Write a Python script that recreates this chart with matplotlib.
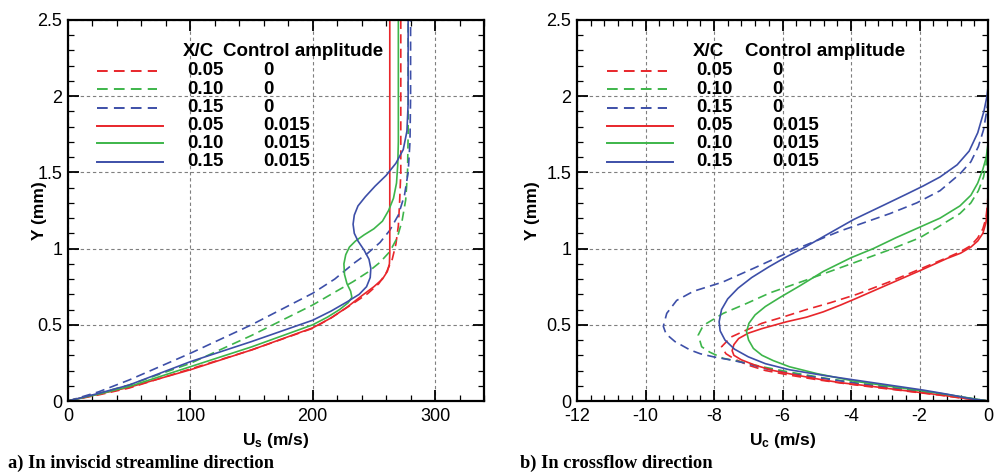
import matplotlib
matplotlib.use("Agg")
import matplotlib.pyplot as plt
from matplotlib.ticker import MultipleLocator, FixedLocator, FixedFormatter

plt.rcParams['axes.unicode_minus'] = False
plt.rcParams['mathtext.fontset'] = 'custom'
plt.rcParams['mathtext.rm'] = 'Liberation Sans'
plt.rcParams['mathtext.bf'] = 'Liberation Sans:bold'

NARROW = ['Liberation Sans Narrow', 'Liberation Sans', 'DejaVu Sans']
SANS = ['Liberation Sans', 'DejaVu Sans']
SERIF = ['Liberation Serif', 'DejaVu Serif']

# ---------------- data ----------------
xc_values = ['0.05', '0.10', '0.15', '0.05', '0.10', '0.15']
amp_values = ['0', '0', '0', '0.015', '0.015', '0.015']

# (a) streamwise velocity Us (m/s) vs Y (mm)
us_005_0 = [0, 25, 50, 100, 150, 200, 215, 233, 245, 254, 260, 265, 268, 270, 271, 272, 272]
y_us_005_0 = [0, 0.04, 0.085, 0.21, 0.335, 0.477, 0.545, 0.64, 0.705, 0.77, 0.84, 0.93, 1.03, 1.15, 1.3, 1.5, 2.5]
us_010_0 = [0, 25, 50, 100, 150, 200, 215, 233, 245, 255, 263, 269, 273, 276, 277.5, 278, 278]
y_us_010_0 = [0, 0.05, 0.105, 0.247, 0.43, 0.63, 0.7, 0.783, 0.845, 0.91, 0.98, 1.07, 1.18, 1.32, 1.5, 1.75, 2.5]
us_015_0 = [0, 25, 50, 100, 150, 200, 218, 233.5, 245, 255, 263, 270, 275, 278, 279.5, 280, 280]
y_us_015_0 = [0, 0.06, 0.138, 0.313, 0.5, 0.707, 0.8, 0.903, 0.97, 1.04, 1.12, 1.22, 1.35, 1.5, 1.7, 2.0, 2.5]
us_005_c = [0, 25, 50, 100, 150, 200, 215, 228, 240, 250, 257, 261, 262.7, 263, 263]
y_us_005_c = [0, 0.045, 0.09, 0.205, 0.335, 0.48, 0.545, 0.615, 0.69, 0.75, 0.8, 0.85, 0.9, 0.97, 2.5]
us_010_c = [0, 25, 50, 100, 150, 200, 212, 222, 229, 232, 231, 228, 226, 225.5, 227, 230, 235, 242,
            250, 257, 262, 266, 268.5, 269.5, 270, 270]
y_us_010_c = [0, 0.045, 0.095, 0.225, 0.355, 0.5, 0.55, 0.6, 0.645, 0.68, 0.72, 0.77, 0.83, 0.9, 0.96, 1.01, 1.05, 1.09,
              1.13, 1.18, 1.25, 1.33, 1.43, 1.55, 1.7, 2.5]
us_015_c = [0, 25, 50, 100, 150, 200, 215, 228, 238, 244, 247, 247.5, 246, 242, 237, 234, 233, 234, 237,
            243, 251, 260, 268, 274, 277, 278, 278]
y_us_015_c = [0, 0.05, 0.105, 0.258, 0.39, 0.53, 0.59, 0.65, 0.7, 0.75, 0.81, 0.87, 0.93, 0.99, 1.05, 1.1, 1.16, 1.22, 1.28,
              1.34, 1.41, 1.48, 1.56, 1.65, 1.77, 1.95, 2.5]

# (b) crossflow velocity Uc (m/s) vs Y (mm)
uc_005_0 = [0, -0.7, -1.4, -2.5, -3.4, -4.3, -5.0, -5.8, -6.5, -7.0, -7.4, -7.65, -7.78, -7.5, -7.05, -6.6,
            -6.0, -5.3, -4.6, -3.83, -2.9, -1.94, -1.2, -0.8, -0.5, -0.3, -0.15, -0.06, -0.02, 0, 0]
y_uc_005_0 = [0, 0.017, 0.038, 0.068, 0.092, 0.118, 0.14, 0.17, 0.2, 0.235, 0.275, 0.31, 0.356, 0.42, 0.466, 0.51,
              0.55, 0.6, 0.645, 0.7, 0.78, 0.87, 0.94, 0.98, 1.02, 1.07, 1.13, 1.2, 1.28, 1.35, 2.5]
uc_010_0 = [0, -0.9, -1.9, -2.9, -3.9, -4.9, -5.8, -6.6, -7.24, -7.73, -8.12, -8.36, -8.46, -8.35, -8.21, -7.73,
            -7.05, -6.36, -5.29, -4.0, -2.9, -2.0, -1.4, -0.82, -0.5, -0.28, -0.13, -0.04, 0, 0]
y_uc_010_0 = [0, 0.028, 0.06, 0.09, 0.12, 0.155, 0.19, 0.225, 0.258, 0.28, 0.32, 0.356, 0.433, 0.48, 0.51, 0.575,
              0.64, 0.71, 0.795, 0.9, 0.99, 1.07, 1.15, 1.23, 1.3, 1.38, 1.47, 1.57, 1.67, 2.5]
uc_015_0 = [0, -0.9, -1.89, -2.9, -3.83, -4.8, -5.78, -6.5, -7.05, -7.53, -8.02, -8.4, -8.7, -9.14, -9.4, -9.48,
            -9.38, -9.09, -8.6, -7.75, -6.85, -5.68, -4.32, -2.86, -2.08, -1.4, -0.82, -0.5, -0.28, -0.13, -0.04, 0, 0]
y_uc_015_0 = [0, 0.03, 0.063, 0.09, 0.116, 0.148, 0.18, 0.212, 0.247, 0.27, 0.29, 0.31, 0.335, 0.39, 0.44, 0.49,
              0.575, 0.66, 0.72, 0.78, 0.87, 0.99, 1.115, 1.23, 1.3, 1.38, 1.49, 1.57, 1.67, 1.78, 1.9, 1.97, 2.5]
uc_005_c = [0, -0.7, -1.4, -2.5, -3.35, -4.3, -4.81, -5.6, -6.27, -6.8, -7.2, -7.42, -7.47, -7.42, -7.28, -7.0,
            -6.6, -5.88, -5.3, -4.81, -4.3, -3.83, -2.86, -1.94, -1.2, -0.8, -0.5, -0.3, -0.15, -0.06, -0.02, 0, 0]
y_uc_005_c = [0, 0.018, 0.04, 0.07, 0.095, 0.12, 0.138, 0.17, 0.2, 0.235, 0.27, 0.3, 0.33, 0.37, 0.41, 0.445,
              0.475, 0.52, 0.55, 0.585, 0.63, 0.675, 0.77, 0.86, 0.935, 0.97, 1.01, 1.05, 1.1, 1.17, 1.25, 1.32, 2.5]
uc_010_c = [0, -0.7, -1.4, -2.5, -3.9, -5.0, -5.8, -6.27, -6.6, -6.85, -6.99, -7.05, -6.98, -6.8, -6.5, -6.07,
            -5.5, -4.81, -4.0, -3.35, -2.7, -2.0, -1.4, -0.82, -0.5, -0.3, -0.15, -0.05, 0, 0]
y_uc_010_c = [0, 0.025, 0.05, 0.085, 0.13, 0.18, 0.225, 0.265, 0.3, 0.345, 0.4, 0.455, 0.51, 0.565, 0.62, 0.68,
              0.755, 0.85, 0.94, 1.0, 1.07, 1.14, 1.2, 1.28, 1.35, 1.43, 1.52, 1.6, 1.69, 2.5]
uc_015_c = [0, -0.5, -1.2, -1.9, -2.9, -3.9, -4.8, -5.8, -6.5, -7.0, -7.4, -7.68, -7.82, -7.85, -7.78, -7.6,
            -7.3, -6.9, -6.4, -5.88, -5.3, -4.81, -3.93, -3.0, -2.4, -1.9, -1.4, -0.9, -0.55, -0.3, -0.12, -0.03, 0, 0]
y_uc_015_c = [0, 0.015, 0.045, 0.072, 0.105, 0.138, 0.168, 0.205, 0.245, 0.29, 0.34, 0.4, 0.46, 0.52, 0.6, 0.67,
              0.74, 0.81, 0.88, 0.947, 1.015, 1.078, 1.19, 1.29, 1.355, 1.41, 1.47, 1.55, 1.64, 1.76, 1.9, 2.0, 2.06, 2.5]

y_ticks = [0, 0.5, 1, 1.5, 2, 2.5]
y_ticklabels = ['0', '0.5', '1', '1.5', '2', '2.5']
us_ticks = [0, 100, 200, 300]
uc_ticks = [-12, -10, -8, -6, -4, -2, 0]

# ---------------- style ----------------
RED = '#e8262b'
GREEN = '#3db54a'
BLUE = '#3d4fa8'
colors = [RED, GREEN, BLUE, RED, GREEN, BLUE]
DASH = (0, (5.5, 3.2))
styles = [DASH, DASH, DASH, '-', '-', '-']
LW = 1.2

fig = plt.figure(figsize=(9.96, 4.75), dpi=100)
axA = fig.add_axes([68 / 996, 74 / 475, 416 / 996, 381 / 475])
axB = fig.add_axes([577 / 996, 74 / 475, 411 / 996, 381 / 475])

seriesA = [(us_005_0, y_us_005_0), (us_010_0, y_us_010_0), (us_015_0, y_us_015_0),
           (us_005_c, y_us_005_c), (us_010_c, y_us_010_c), (us_015_c, y_us_015_c)]
seriesB = [(uc_005_0, y_uc_005_0), (uc_010_0, y_uc_010_0), (uc_015_0, y_uc_015_0),
           (uc_005_c, y_uc_005_c), (uc_010_c, y_uc_010_c), (uc_015_c, y_uc_015_c)]


def style_axes(ax, xticks, xlim, xminor):
    ax.set_xlim(*xlim)
    ax.set_ylim(0, 2.5)
    ax.xaxis.set_major_locator(FixedLocator(xticks))
    ax.xaxis.set_minor_locator(MultipleLocator(xminor))
    ax.yaxis.set_major_locator(FixedLocator(y_ticks))
    ax.yaxis.set_major_formatter(FixedFormatter(y_ticklabels))
    ax.yaxis.set_minor_locator(MultipleLocator(0.1))
    ax.tick_params(which='both', direction='in', top=True, right=True, colors='black')
    ax.tick_params(which='major', length=8, width=1.3, pad=4, labelsize=13)
    ax.tick_params(axis='x', which='major', pad=5)
    ax.tick_params(which='minor', length=4, width=0.9)
    for lab in ax.get_xticklabels() + ax.get_yticklabels():
        lab.set_family(NARROW)
    for s in ax.spines.values():
        s.set_linewidth(1.6)
    ax.grid(True, which='major', color='#7f7f7f', linestyle=(0, (3, 2.5)), linewidth=0.8)
    ax.set_axisbelow(True)
    ax.set_ylabel('Y (mm)', family=NARROW, fontweight='bold', fontsize=12.5)


def draw_legend(ax, x0, x1d, x1s, xhead, xnum, xamp_head, xamp):
    rows_y = [70.7, 89.3, 107.7, 126, 143.3, 161.7]
    fy = lambda py: (401 - py) / 381
    ax.text(xhead, fy(51.7), 'X/C', transform=ax.transAxes, family=SANS,
            fontweight='bold', fontsize=13.5, va='center', ha='left')
    ax.text(xamp_head, fy(51.7), 'Control amplitude', transform=ax.transAxes, family=SANS,
            fontweight='bold', fontsize=13.5, va='center', ha='left')
    for i, py in enumerate(rows_y):
        xe = x1d if styles[i] != '-' else x1s
        ax.plot([x0, xe], [fy(py), fy(py)], transform=ax.transAxes, color=colors[i],
                linestyle=styles[i], linewidth=LW + 0.2, clip_on=False)
        ax.text(xnum, fy(py), xc_values[i], transform=ax.transAxes, family=SANS,
                fontweight='bold', fontsize=13.5, va='center', ha='left')
        ax.text(xamp, fy(py), amp_values[i], transform=ax.transAxes, family=SANS,
                fontweight='bold', fontsize=13.5, va='center', ha='left')


# panel a
style_axes(axA, us_ticks, (0, 340), 20)
for (xs, ys), c, ls in zip(seriesA, colors, styles):
    axA.plot(xs, ys, color=c, linestyle=ls, linewidth=LW, solid_joinstyle='round')
axA.set_xlabel(r'$\mathbf{U_s}$ (m/s)', family=NARROW, fontweight='bold', fontsize=12.5)
axA.xaxis.set_label_coords(0.5, -0.078)
axA.yaxis.set_label_coords(-0.05, 0.5)
fa = lambda px: (px - 68) / 416
draw_legend(axA, fa(97), fa(157), fa(163), fa(183), fa(187), fa(223), fa(263))

# panel b
style_axes(axB, uc_ticks, (-12, 0), 0.4)
for (xs, ys), c, ls in zip(seriesB, colors, styles):
    axB.plot(xs, ys, color=c, linestyle=ls, linewidth=LW, solid_joinstyle='round')
axB.set_xlabel(r'$\mathbf{U_c}$ (m/s)', family=NARROW, fontweight='bold', fontsize=12.5)
axB.xaxis.set_label_coords(0.5, -0.078)
axB.yaxis.set_label_coords(-0.09, 0.5)
fb = lambda px: (px - 577) / 411
draw_legend(axB, fb(607), fb(667), fb(673), fb(693), fb(696), fb(745), fb(772))

fig.text(8 / 996, 1 - 468 / 475, 'a) In inviscid streamline direction', family=SERIF,
         fontweight='bold', fontsize=13.3, va='baseline', ha='left')
fig.text(520 / 996, 1 - 468 / 475, 'b) In crossflow direction', family=SERIF,
         fontweight='bold', fontsize=13.3, va='baseline', ha='left')

fig.savefig('out.png', dpi=100)
